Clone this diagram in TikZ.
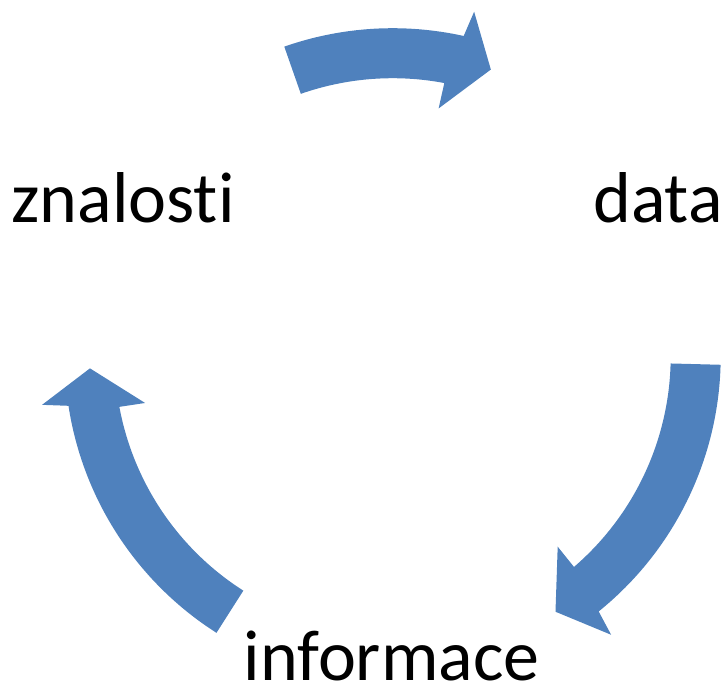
\documentclass[tikz,border=0pt]{standalone}
\usepackage{fontspec}
\setmainfont{Carlito}[Ligatures=NoCommon]
\usetikzlibrary{calc}
\definecolor{arrowblue}{RGB}{79,129,189}
\tikzset{
  lbl/.style={anchor=base, inner sep=0pt, font=\fontsize{72}{86}\selectfont, text=black},
  cyclearrow/.style={fill=arrowblue, draw=none}
}
% #1 tail angle, #2 head base angle, #3 name
\newcommand{\cyclearrowpath}[3]{%
  \fill[cyclearrow] ($(C)+(#1:328)$) arc[start angle=#1, end angle=#2-0.6, radius=328]
    -- ($(C)+(#2-1.4:354)$)
    -- ($(C)+(#2-7:303)$) coordinate (#3tip)
    -- ($(C)+(#2+1.4:252)$)
    -- ($(C)+(#2+1.2:278)$)
    arc[start angle=#2+1.2, end angle=#1, radius=278] -- cycle;}
\begin{document}
\begin{tikzpicture}[x=1pt,y=1pt]
\useasboundingbox (0,0) rectangle (722,685);
\coordinate (C) at (392.7,328.8);
\cyclearrowpath{109.3}{78.1}{top}
\cyclearrowpath{-1.5}{-50.5}{right}
\cyclearrowpath{237.5}{189.3}{left}
\node[lbl] (znalosti) at (123,462) {znalosti};
\node[lbl] (data) at (658,462) {data};
\node[lbl] (informace) at (391.5,5) {informace};
\end{tikzpicture}
\end{document}
